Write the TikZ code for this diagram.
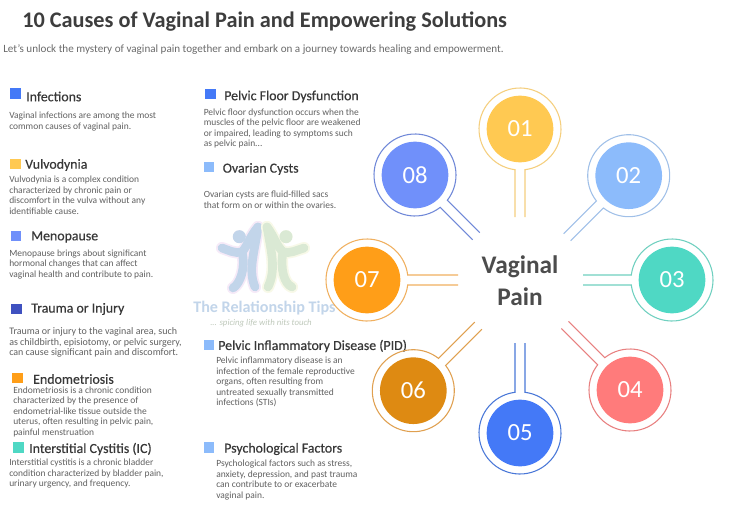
\documentclass[tikz,border=0pt]{standalone}
\usepackage{fontspec}
\setmainfont{Carlito}
\usetikzlibrary{calc}

\definecolor{col01}{HTML}{FFC952}
\definecolor{col02}{HTML}{8CBBFB}
\definecolor{col03}{HTML}{4FD8C4}
\definecolor{col04}{HTML}{FF7B7B}
\definecolor{col05}{HTML}{4479F7}
\definecolor{col06}{HTML}{DE8A12}
\definecolor{col07}{HTML}{FF9E18}
\definecolor{col08}{HTML}{7090FA}
\definecolor{ring01}{HTML}{F5CF7E}
\definecolor{ring02}{HTML}{A0C0E8}
\definecolor{ring03}{HTML}{70D0C0}
\definecolor{ring04}{HTML}{E88080}
\definecolor{ring05}{HTML}{4A78D8}
\definecolor{ring06}{HTML}{E0A050}
\definecolor{ring07}{HTML}{F0B060}
\definecolor{ring08}{HTML}{7088D8}
\definecolor{colnavy}{HTML}{3F51C0}
\definecolor{logoblue}{HTML}{C2D5EA}
\definecolor{logopink}{HTML}{F6EAF8}
\definecolor{logogreen}{HTML}{DAE9D4}
\definecolor{logoyel}{HTML}{F8F9E8}

\begin{document}
\begin{tikzpicture}[
	x=0.75pt,y=0.75pt,yscale=-1,
	bullet/.style={rectangle, minimum size=8pt, inner sep=0pt},
	heading/.style={anchor=west, inner sep=0pt, text=black!78, font=\fontsize{10.4}{12}\selectfont\addfontfeatures{FakeBold=0.4}},
	bodytxt/.style={anchor=north west, inner sep=0pt, align=left, text=black!62,
		font=\fontsize{7.1}{7.9}\selectfont, execute at begin node=\strut},
	circ/.style={circle, minimum size=50pt, inner sep=0pt, text=white, font=\fontsize{18.5}{20}\selectfont},
	logofig/.style={line cap=round, line join=round}
]
\useasboundingbox (0,0) rectangle (756,506);
\fill[white] (0,0) rectangle (756,506);

% title
\node[anchor=west, inner sep=0pt, text=black!76, font=\fontsize{16.7}{20}\bfseries] (title) at (22,21.5) {10 Causes of Vaginal Pain and Empowering Solutions};
\node[anchor=west, inner sep=0pt, text=black!58, font=\fontsize{8.33}{10}\selectfont] (sub) at (3,49.5) {Let's unlock the mystery of vaginal pain together and embark on a journey towards healing and empowerment.};

% left column
\node[bullet, fill=col05] (b1) at (15.5,93.5) {};
\node[heading] (h1) at (26,96.5) {Infections};
\node[bodytxt] (t1) at (9,112) {Vaginal infections are among the most\\common causes of vaginal pain.};

\node[bullet, fill=col01] (b2) at (15.5,164) {};
\node[heading] (h2) at (25,165) {Vulvodynia};
\node[bodytxt] (t2) at (9,176) {Vulvodynia is a complex condition\\characterized by chronic pain or\\discomfort in the vulva without any\\identifiable cause.};

\node[bullet, fill=col08] (b3) at (16,236) {};
\node[heading] (h3) at (31,237) {Menopause};
\node[bodytxt] (t3) at (9,249.5) {Menopause brings about significant\\hormonal changes that can affect\\vaginal health and contribute to pain.};

\node[bullet, fill=colnavy] (b4) at (16.5,309) {};
\node[heading] (h4) at (31,309) {Trauma or Injury};
\node[bodytxt, font=\fontsize{7.5}{7.9}\selectfont] (t4) at (9,327.5) {Trauma or injury to the vaginal area, such\\as childbirth, episiotomy, or pelvic surgery,\\can cause significant pain and discomfort.};

\node[bullet, fill=col07] (b5) at (17.5,378) {};
\node[heading] (h5) at (33,379) {Endometriosis};
\node[bodytxt] (t5) at (13,386.5) {Endometriosis is a chronic condition\\characterized by the presence of\\endometrial-like tissue outside the\\uterus, often resulting in pelvic pain,\\painful menstruation};

\node[bullet, fill=col03] (b6) at (18.5,447.5) {};
\node[heading] (h6) at (29,449) {Interstitial Cystitis (IC)};
\node[bodytxt] (t6) at (9,459) {Interstitial cystitis is a chronic bladder\\condition characterized by bladder pain,\\urinary urgency, and frequency.};

% middle column
\node[bullet, fill=col05] (b7) at (210.5,94) {};
\node[heading] (h7) at (224,96.5) {Pelvic Floor Dysfunction};
\node[bodytxt] (t7) at (203.5,108.5) {Pelvic floor dysfunction occurs when the\\muscles of the pelvic floor are weakened\\or impaired, leading to symptoms such\\as pelvic pain...};

\node[bullet, fill=col02] (b8) at (209,167) {};
\node[heading] (h8) at (222.5,169) {Ovarian Cysts};
\node[bodytxt] (t8) at (203.5,191) {Ovarian cysts are fluid-filled sacs\\that form on or within the ovaries.};

% watermark logo
\foreach \logocol/\wid in {logopink/9pt, logoblue/6.5pt}{
	\fill[\logocol] (239.3,236.7) circle (6.5);
	\draw[\logocol, logofig, line width=\wid] (258,227) .. controls (250,236) and (248,245) .. (242,252) .. controls (235,254) and (228,250) .. (222,248);
	\draw[\logocol, logofig, line width=\wid] (258,227) .. controls (254,255) and (248,270) .. (255,287);
	\draw[\logocol, logofig, line width=\wid] (242,252) .. controls (246,268) and (240,284) .. (233,288);
}
\foreach \logocol/\wid in {logoyel/9pt, logogreen/6.5pt}{
	\fill[\logocol] (286,236.7) circle (6.5);
	\draw[\logocol, logofig, line width=\wid] (267,227) .. controls (274,236) and (276,245) .. (283,252) .. controls (290,254) and (297,250) .. (304,248);
	\draw[\logocol, logofig, line width=\wid] (267,227) .. controls (272,255) and (276,270) .. (268,287);
	\draw[\logocol, logofig, line width=\wid] (283,252) .. controls (280,268) and (284,284) .. (292,287);
}
\node[anchor=west, inner sep=0pt, text=logoblue, font=\fontsize{12.1}{16}\bfseries] (logo) at (193,308) {The Relationship Tips};
\node[anchor=west, inner sep=0pt, text=logogreen!70!gray, font=\fontsize{6.6}{10}\itshape] (slogan) at (210,323) {... spicing life with nits touch};

\node[bullet, fill=col02] (b9) at (209,345) {};
\node[heading] (h9) at (218,346) {Pelvic Inflammatory Disease (PID)};
\node[bodytxt] (t9) at (216,357) {Pelvic inflammatory disease is an\\infection of the female reproductive\\organs, often resulting from\\untreated sexually transmitted\\infections (STIs)};

\node[bullet, fill=col02] (b10) at (209,447.5) {};
\node[heading] (h10) at (224,449) {Psychological Factors};
\node[bodytxt] (t10) at (216,460) {Psychological factors such as stress,\\anxiety, depression, and past trauma\\can contribute to or exacerbate\\vaginal pain.};

% centre
\node[align=center, inner sep=0pt, text=black!70, font=\fontsize{19}{24}\bfseries] (pain) at (520,281) {Vaginal\\Pain};

% numbered circles with stems: number/x/y/angle/stem length
\foreach \n/\x/\y/\ang/\len in {01/520/129/90/88, 02/628.7/175.7/135/87, 03/672/280/180/89, 04/630/390/225/92, 05/520/433/270/90, 06/413.3/390.7/315/92, 07/367/280/0/91, 08/415/175/45/86.5}{
	\node[circ, fill=col\n] (c\n) at (\x,\y) {\n};
	\coordinate (e\n a) at ($(c\n)+(\ang:\len)+(\ang+90:5)$);
	\coordinate (e\n b) at ($(c\n)+(\ang:\len)+(\ang-90:5)$);
	\draw[ring\n, line width=0.8pt] (e\n a) -- ($(c\n)+(\ang+7:41)$) arc[start angle=\ang+7, end angle=\ang+353, radius=41] -- (e\n b);
}
\end{tikzpicture}
\end{document}
